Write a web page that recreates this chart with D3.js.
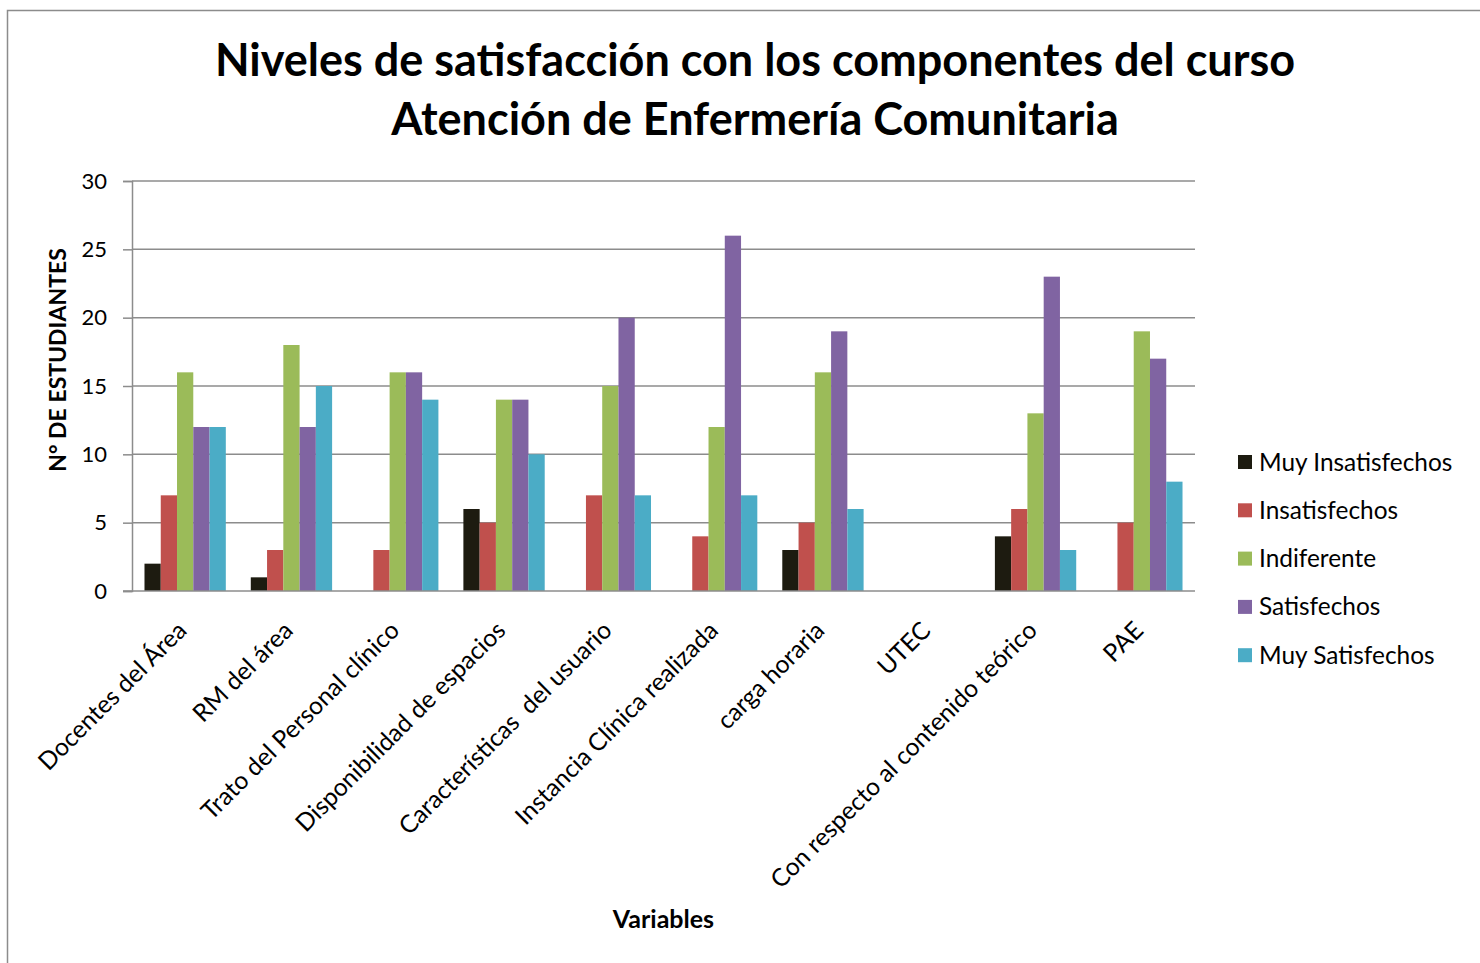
<!DOCTYPE html>
<html><head><meta charset="utf-8">
<script src="https://cdn.jsdelivr.net/npm/d3@7"></script>
<style>
html,body{margin:0;padding:0;background:#fff;}
svg{display:block;}
text{font-family:Lato,"Open Sans",sans-serif;fill:#000;}
</style></head>
<body>
<svg id="chart" width="1480" height="963"></svg>
<script>
const categories = ["Docentes del Área","RM del área","Trato del Personal clínico","Disponibilidad de espacios","Características  del usuario","Instancia Clínica realizada","carga horaria","UTEC","Con respecto al contenido teórico","PAE"];
const seriesNames = ["Muy Insatisfechos","Insatisfechos","Indiferente","Satisfechos","Muy Satisfechos"];
const muyInsatisfechos = [2,1,0,6,0,0,3,0,4,0];
const insatisfechos    = [7,3,3,5,7,4,5,0,6,5];
const indiferente      = [16,18,16,14,15,12,16,0,13,19];
const satisfechos      = [12,12,16,14,20,26,19,0,23,17];
const muySatisfechos   = [12,15,14,10,7,7,6,0,3,8];
const seriesColors = ["#1D1B10","#C0504D","#9BBB59","#8064A2","#4BACC6"];
const yTicks = [0,5,10,15,20,25,30];
const titleLines = ["Niveles de satisfacción con los componentes del curso","Atención de Enfermería Comunitaria"];
const yTitle = "N° DE ESTUDIANTES";
const xTitle = "Variables";

(function(){
const seriesValues = [muyInsatisfechos, insatisfechos, indiferente, satisfechos, muySatisfechos];
const svg = d3.select("#chart");

svg.append("rect").attr("x",7.5).attr("y",10.5).attr("width",1490).attr("height",970)
  .attr("fill","none").attr("stroke","#8c8c8c").attr("stroke-width",1.5);

const pL = 132, pR = 1195, pT = 181, pB = 591;

const x0 = d3.scaleBand().domain(categories).range([pL,pR]).paddingInner(0.235).paddingOuter(0.1175);
const x1 = d3.scaleBand().domain(seriesNames).range([0,x0.bandwidth()]);
const y = d3.scaleLinear().domain([0,30]).range([pB,pT]);

svg.append("g").selectAll("line").data(yTicks.filter(d=>d>0)).join("line")
  .attr("x1",pL).attr("x2",pR).attr("y1",d=>y(d)).attr("y2",d=>y(d))
  .attr("stroke","#8c8c8c").attr("stroke-width",1.5);

const yAxis = svg.append("g").attr("transform",`translate(${pL},0)`)
  .call(d3.axisLeft(y).tickValues(yTicks).tickSize(9).tickPadding(16));
yAxis.select(".domain").attr("stroke","#8c8c8c").attr("stroke-width",1.5);
yAxis.selectAll(".tick line").attr("stroke","#8c8c8c").attr("stroke-width",1.5);
yAxis.selectAll(".tick text").attr("font-family","Lato").attr("font-size",22).attr("fill","#000");

const groups = svg.append("g").selectAll("g").data(categories).join("g")
  .attr("transform",d=>`translate(${x0(d)},0)`);
groups.selectAll("rect").data((c,i)=>seriesNames.map((s,j)=>({s, j, v: seriesValues[j][i]})))
  .join("rect")
  .attr("x",d=>x1(d.s)).attr("width",x1.bandwidth())
  .attr("y",d=>y(d.v)).attr("height",d=>y(0)-y(d.v))
  .attr("fill",d=>seriesColors[d.j]);

svg.append("line").attr("x1",pL-9).attr("x2",pR).attr("y1",pB).attr("y2",pB)
  .attr("stroke","#8c8c8c").attr("stroke-width",1.5);

svg.append("g").selectAll("text").data(categories).join("text")
  .attr("transform",d=>`translate(${x0(d)+x0.bandwidth()/2+3},${pB+41}) rotate(-45)`)
  .attr("text-anchor","end").attr("font-size",24.6).style("white-space","pre")
  .text(d=>d);

svg.append("text").attr("text-anchor","middle").attr("font-size",45).attr("font-weight","bold")
  .selectAll("tspan").data(titleLines).join("tspan").attr("x",755).attr("y",(d,i)=>76+i*59).text(d=>d);

svg.append("text").attr("transform",`translate(66,360) rotate(-90)`).attr("text-anchor","middle")
  .attr("font-size",23).attr("font-weight","bold").text(yTitle);

svg.append("text").attr("x",(pL+pR)/2).attr("y",928).attr("text-anchor","middle")
  .attr("font-size",25).attr("font-weight","bold").text(xTitle);

const lg = svg.append("g").selectAll("g").data(seriesNames).join("g")
  .attr("transform",(d,i)=>`translate(1238,${462+i*48.3})`);
lg.append("rect").attr("x",0).attr("y",-7).attr("width",14).attr("height",14).attr("fill",(d,i)=>seriesColors[i]);
lg.append("text").attr("x",21).attr("dy","0.35em").attr("font-size",24.4).text(d=>d);
})();
</script>
</body></html>
